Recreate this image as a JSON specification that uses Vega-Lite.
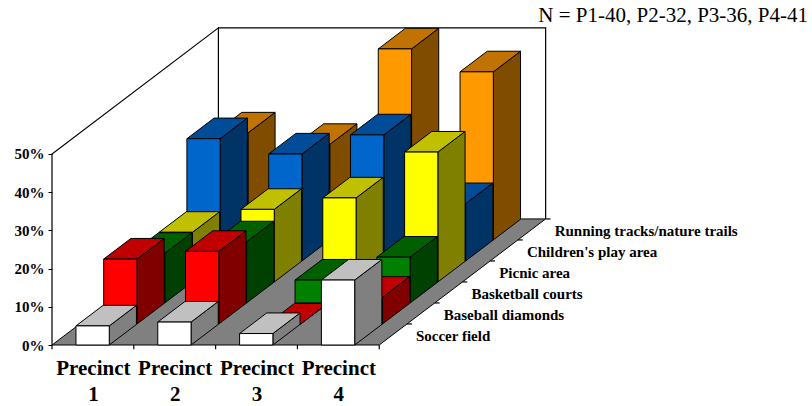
{
"$schema":"https://vega.github.io/schema/vega-lite/v6.json",
"width":760,"height":345,"autosize":"none",
"padding":{"left":52,"top":0,"right":0,"bottom":61},
"background":"white",
"view":{"stroke":null},
"title":{"text":"N = P1-40, P2-32, P3-36, P4-41","anchor":"end","frame":"group","font":"Liberation Serif","fontSize":21,"fontWeight":"normal","color":"#000000","offset":0,"dy":26,"dx":-4},
"datasets":{
"bars":[
{"amenity":"Running tracks/nature trails","precinct":1,"percent":28},
{"amenity":"Running tracks/nature trails","precinct":2,"percent":25},
{"amenity":"Running tracks/nature trails","precinct":3,"percent":50},
{"amenity":"Running tracks/nature trails","precinct":4,"percent":44},
{"amenity":"Children's play area","precinct":1,"percent":32},
{"amenity":"Children's play area","precinct":2,"percent":28},
{"amenity":"Children's play area","precinct":3,"percent":33},
{"amenity":"Children's play area","precinct":4,"percent":15},
{"amenity":"Picnic area","precinct":1,"percent":13},
{"amenity":"Picnic area","precinct":2,"percent":19},
{"amenity":"Picnic area","precinct":3,"percent":22},
{"amenity":"Picnic area","precinct":4,"percent":34},
{"amenity":"Basketball courts","precinct":1,"percent":13},
{"amenity":"Basketball courts","precinct":2,"percent":16},
{"amenity":"Basketball courts","precinct":3,"percent":6},
{"amenity":"Basketball courts","precinct":4,"percent":12},
{"amenity":"Baseball diamonds","precinct":1,"percent":17},
{"amenity":"Baseball diamonds","precinct":2,"percent":19},
{"amenity":"Baseball diamonds","precinct":3,"percent":0},
{"amenity":"Baseball diamonds","precinct":4,"percent":7},
{"amenity":"Soccer field","precinct":1,"percent":5},
{"amenity":"Soccer field","precinct":2,"percent":6},
{"amenity":"Soccer field","precinct":3,"percent":3},
{"amenity":"Soccer field","precinct":4,"percent":17}
],
"frame":[
{"path":"floor","seq":0,"across":0,"deep":0,"pct":0},
{"path":"floor","seq":1,"across":4,"deep":0,"pct":0},
{"path":"floor","seq":2,"across":4,"deep":6,"pct":0},
{"path":"floor","seq":3,"across":0,"deep":6,"pct":0},
{"path":"floor","seq":4,"across":0,"deep":0,"pct":0},
{"path":"left","seq":0,"across":0,"deep":0,"pct":0},
{"path":"left","seq":1,"across":0,"deep":0,"pct":50},
{"path":"left","seq":2,"across":0,"deep":6,"pct":50},
{"path":"left","seq":3,"across":0,"deep":6,"pct":0},
{"path":"back","seq":0,"across":0,"deep":6,"pct":50},
{"path":"back","seq":1,"across":4,"deep":6,"pct":50},
{"path":"back","seq":2,"across":4,"deep":6,"pct":0},
{"path":"t0","seq":0,"across":0,"deep":0,"pct":0},{"path":"t0","seq":1,"across":0,"deep":0,"pct":-1.1},
{"path":"t1","seq":0,"across":1,"deep":0,"pct":0},{"path":"t1","seq":1,"across":1,"deep":0,"pct":-1.1},
{"path":"t2","seq":0,"across":2,"deep":0,"pct":0},{"path":"t2","seq":1,"across":2,"deep":0,"pct":-1.1},
{"path":"t3","seq":0,"across":3,"deep":0,"pct":0},{"path":"t3","seq":1,"across":3,"deep":0,"pct":-1.1},
{"path":"t4","seq":0,"across":4,"deep":0,"pct":0},{"path":"t4","seq":1,"across":4,"deep":0,"pct":-1.1},
{"path":"d1","seq":0,"across":4,"deep":1,"pct":0},{"path":"d1","seq":1,"across":4.06,"deep":1,"pct":0},
{"path":"d2","seq":0,"across":4,"deep":2,"pct":0},{"path":"d2","seq":1,"across":4.06,"deep":2,"pct":0},
{"path":"d3","seq":0,"across":4,"deep":3,"pct":0},{"path":"d3","seq":1,"across":4.06,"deep":3,"pct":0},
{"path":"d4","seq":0,"across":4,"deep":4,"pct":0},{"path":"d4","seq":1,"across":4.06,"deep":4,"pct":0},
{"path":"d5","seq":0,"across":4,"deep":5,"pct":0},{"path":"d5","seq":1,"across":4.06,"deep":5,"pct":0},
{"path":"d6","seq":0,"across":4,"deep":6,"pct":0},{"path":"d6","seq":1,"across":4.06,"deep":6,"pct":0}
],
"depths":[
{"amenity":"Soccer field","deep":0},
{"amenity":"Baseball diamonds","deep":1},
{"amenity":"Basketball courts","deep":2},
{"amenity":"Picnic area","deep":3},
{"amenity":"Children's play area","deep":4},
{"amenity":"Running tracks/nature trails","deep":5}
]
},
"encoding":{
"x":{"field":"px","type":"quantitative","scale":{"domain":[0,9.29],"nice":false,"zero":false},
"axis":{"title":null,"grid":false,"domain":false,"ticks":false,"values":[0.5,1.5,2.5,3.5],"labelExpr":"['Precinct', ''+ceil(datum.value)]","labelFont":"Liberation Serif","labelFontWeight":"bold","labelFontSize":21,"labelColor":"#000000","labelLineHeight":26,"labelPadding":12,"labelOverlap":false,"labelFlush":false,"labelBound":false}},
"y":{"field":"py","type":"quantitative","scale":{"domain":[0,90.3],"nice":false,"zero":false},
"axis":{"title":null,"grid":false,"domain":false,"values":[0,10,20,30,40,50],"labelExpr":"datum.value+'%'","labelFont":"Liberation Serif","labelFontWeight":"bold","labelFontSize":15,"labelColor":"#000000","tickColor":"#000000","tickSize":4,"labelPadding":4,"labelOverlap":false,"labelBound":false}}
},
"layer":[
{"data":{"name":"frame"},
"transform":[{"filter":"datum.path=='floor'"},{"calculate":"datum.across+datum.deep*0.339","as":"px"},{"calculate":"datum.pct+datum.deep*5.5","as":"py"}],
"mark":{"type":"line","filled":true,"fill":"#808080","stroke":"#000000","strokeWidth":1,"interpolate":"linear"},
"encoding":{"order":{"field":"seq","type":"quantitative"}}},
{"data":{"name":"frame"},
"transform":[{"filter":"datum.path!='floor'"},{"calculate":"datum.across+datum.deep*0.339","as":"px"},{"calculate":"datum.pct+datum.deep*5.5","as":"py"}],
"mark":{"type":"line","stroke":"#000000","strokeWidth":1.2},
"encoding":{"detail":{"field":"path"},"order":{"field":"seq","type":"quantitative"}}},
{"data":{"name":"bars"},
"transform":[
{"calculate":"indexof(['Soccer field','Baseball diamonds','Basketball courts','Picnic area','Children\\'s play area','Running tracks/nature trails'],datum.amenity)","as":"deep"},
{"calculate":"['side','top','front']","as":"face"},{"flatten":["face"]},
{"calculate":"[0,1,2,3,4]","as":"corner"},{"flatten":["corner"]},
{"calculate":"datum.face=='side'?1:[0,1,1,0,0][datum.corner]","as":"u"},
{"calculate":"datum.face=='front'?0:(datum.face=='top'?[0,0,1,1,0][datum.corner]:[0,1,1,0,0][datum.corner])","as":"w"},
{"calculate":"datum.face=='top'?1:[0,0,1,1,0][datum.corner]","as":"h"},
{"calculate":"datum.precinct-1+0.293+datum.u*0.407+(datum.deep+datum.w*0.98)*0.339","as":"px"},
{"calculate":"(datum.deep+datum.w*0.98)*5.5+datum.h*datum.percent","as":"py"},
{"calculate":"datum.amenity+' '+datum.face","as":"shade"},
{"calculate":"datum.amenity+' '+datum.precinct+' '+datum.face","as":"polygon"}
],
"mark":{"type":"line","filled":true,"stroke":"#000000","strokeWidth":1},
"encoding":{
"fill":{"field":"shade","type":"nominal","legend":null,"scale":{
"domain":["Soccer field front","Soccer field top","Soccer field side","Baseball diamonds front","Baseball diamonds top","Baseball diamonds side","Basketball courts front","Basketball courts top","Basketball courts side","Picnic area front","Picnic area top","Picnic area side","Children's play area front","Children's play area top","Children's play area side","Running tracks/nature trails front","Running tracks/nature trails top","Running tracks/nature trails side"],
"range":["#FFFFFF","#C0C0C0","#808080","#FF0000","#C00000","#800000","#008000","#006000","#004000","#FFFF00","#C0C000","#808000","#0066CC","#004C99","#003366","#FF9900","#C07300","#804C00"]}},
"detail":{"field":"polygon"},
"order":{"field":"corner","type":"quantitative"}}},
{"data":{"name":"depths"},
"transform":[{"calculate":"4.449+datum.deep*0.339","as":"px"},{"calculate":"2.36+datum.deep*5.5","as":"py"}],
"mark":{"type":"text","align":"left","baseline":"middle","font":"Liberation Serif","fontWeight":"bold","fontSize":15,"color":"#000000"},
"encoding":{"text":{"field":"amenity"}}}
]
}
